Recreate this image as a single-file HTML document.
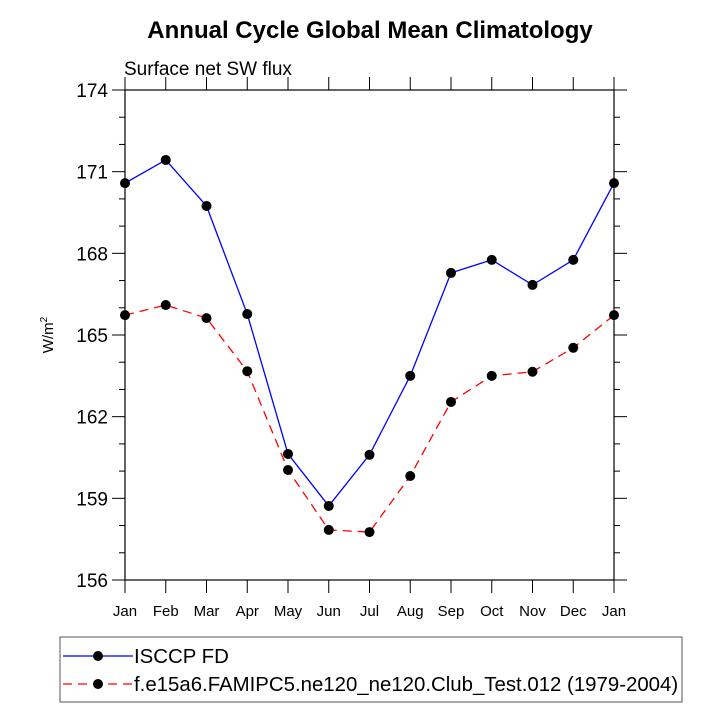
<!DOCTYPE html>
<html><head><meta charset="utf-8"><style>
body{margin:0;background:#fff}
svg text{font-family:"Liberation Sans",sans-serif;fill:#000}
</style></head><body>
<svg width="722" height="722" viewBox="0 0 722 722">
<text x="370" y="38" text-anchor="middle" font-size="24" font-weight="bold">Annual Cycle Global Mean Climatology</text>
<text x="124" y="75" font-size="19">Surface net SW flux</text>
<text transform="translate(53,335) rotate(-90)" text-anchor="middle" font-size="15">W/m<tspan font-size="10" dy="-6">2</tspan></text>
<g id="axes"></g>
<g id="series"></g>
<rect x="60" y="637" width="622" height="65" fill="none" stroke="#555" stroke-width="1"/>
<g>
<line x1="63" y1="656" x2="133" y2="656" stroke="#0000ff" stroke-width="1.3"/>
<circle cx="98" cy="656" r="5" fill="#000"/>
<text x="134" y="663" font-size="20.4">ISCCP FD</text></g>
<g>
<line x1="63" y1="684" x2="133" y2="684" stroke="#ff0000" stroke-width="1.3" stroke-dasharray="9,6"/>
<circle cx="98" cy="684" r="5" fill="#000"/>
<text x="134" y="691" font-size="20.4">f.e15a6.FAMIPC5.ne120_ne120.Club_Test.012 (1979-2004)</text></g>
</svg>
<script>
const months=["Jan","Feb","Mar","Apr","May","Jun","Jul","Aug","Sep","Oct","Nov","Dec","Jan"];
const isccp=[170.58,171.43,169.74,165.77,160.63,158.72,160.6,163.5,167.28,167.76,166.84,167.76,170.58];
const model=[165.73,166.1,165.62,163.67,160.04,157.84,157.76,159.82,162.54,163.5,163.65,164.53,165.73];
const yTicks=[156,159,162,165,168,171,174];
const NS="http://www.w3.org/2000/svg";
const L=125,R=614,T=90,B=580,yMin=156,yMax=174;
const xs=i=>L+(R-L)*i/(months.length-1);
const ys=v=>B-(v-yMin)/(yMax-yMin)*(B-T);
function mk(tag,at,parent){const e=document.createElementNS(NS,tag);for(const k in at)e.setAttribute(k,at[k]);parent.appendChild(e);return e;}
const ax=document.getElementById('axes');
const fr=mk('rect',{x:L,y:T,width:R-L,height:B-T,fill:'none',stroke:'#000','stroke-width':1.2},ax);


for(let v=yMin;v<=yMax;v++){const maj=yTicks.includes(v);const len=maj?13:6;
 mk('line',{x1:L-len,y1:ys(v),x2:L,y2:ys(v),stroke:'#000','stroke-width':1},ax);
 mk('line',{x1:R,y1:ys(v),x2:R+len,y2:ys(v),stroke:'#000','stroke-width':1},ax);}
yTicks.forEach(v=>{const t=mk('text',{x:L-17,y:ys(v)+7,'text-anchor':'end','font-size':19},ax);t.textContent=v;
 
 });
months.forEach((m,i)=>{const x=xs(i);
 mk('line',{x1:x,y1:B,x2:x,y2:B+13,stroke:'#000','stroke-width':1},ax);
 mk('line',{x1:x,y1:T-13,x2:x,y2:T,stroke:'#000','stroke-width':1},ax);
 const t=mk('text',{x:x,y:B+36,'text-anchor':'middle','font-size':15},ax);t.textContent=m;
 
 });
const sg=document.getElementById('series');
function draw(vals,color,dash,name){const g=mk('g',{},sg);
 
 
 const at={points:vals.map((v,i)=>xs(i)+','+ys(v)).join(' '),fill:'none',stroke:color,'stroke-width':1.3};
 if(dash)at['stroke-dasharray']=dash;mk('polyline',at,g);
 vals.forEach((v,i)=>{const c=mk('circle',{cx:xs(i),cy:ys(v),r:5,fill:'#000'},g);
  
  });}
draw(isccp,'#0000ff',null,'isccp-series');
draw(model,'#ff0000','9,6','model-series');
</script>
</body></html>
